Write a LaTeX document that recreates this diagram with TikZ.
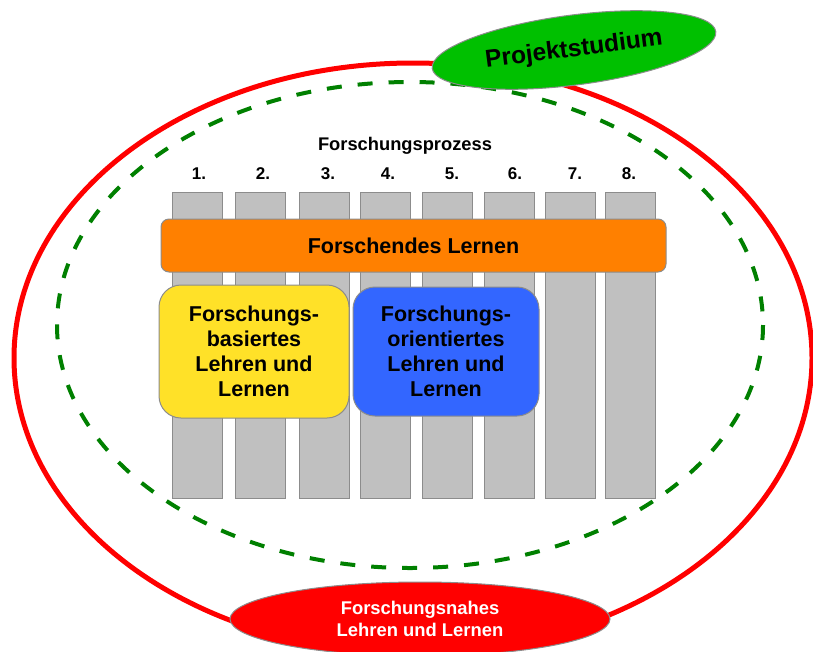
\documentclass[tikz,border=0pt]{standalone}
\usepackage{fontspec}
\setmainfont{Liberation Sans}
\usetikzlibrary{shapes.geometric}
\definecolor{bargray}{RGB}{192,192,192}
\definecolor{barline}{RGB}{140,140,140}
\definecolor{orangefill}{RGB}{255,128,0}
\definecolor{yellowfill}{RGB}{255,225,40}
\definecolor{bluefill}{RGB}{51,102,255}
\definecolor{greenfill}{RGB}{0,192,0}
\definecolor{dashgreen}{RGB}{0,128,0}
\definecolor{redfill}{RGB}{255,0,0}
\tikzset{
  outerring/.style={draw=redfill, line width=5pt},
  innerring/.style={draw=dashgreen, line width=4pt, dash pattern=on 15pt off 16pt},
  barbox/.style={draw=barline, fill=bargray, line width=1pt, minimum width=50pt, minimum height=306pt, inner sep=0pt, outer sep=0pt},
  numlabel/.style={font=\fontsize{17}{20}\selectfont\bfseries, inner sep=0pt},
  orangebox/.style={draw=barline, fill=orangefill, line width=1pt, rounded corners=8pt, minimum width=505pt, minimum height=53pt, inner sep=0pt, font=\fontsize{21.5}{25}\selectfont\bfseries},
  roundbox/.style={draw=barline, line width=1pt, rounded corners=22pt, inner sep=0pt, align=center, font=\fontsize{21.5}{25}\selectfont\bfseries},
  ovalnode/.style={ellipse, draw=barline, line width=1pt, inner sep=0pt, align=center}
}
\begin{document}
\begin{tikzpicture}[x=1pt,y=-1pt]
\useasboundingbox (0,0) rectangle (813,651);
\draw[outerring] (413,358) ellipse [x radius=399, y radius=295];
\draw[innerring] (410,325) ellipse [x radius=353, y radius=243];

\node[font=\fontsize{18.3}{21}\selectfont\bfseries, inner sep=0pt] (title) at (405,146) {Forschungsprozess};

\node[barbox] (b1) at (197,345) {};
\node[barbox] (b2) at (260,345) {};
\node[barbox] (b3) at (324,345) {};
\node[barbox] (b4) at (385,345) {};
\node[barbox] (b5) at (447,345) {};
\node[barbox] (b6) at (509,345) {};
\node[barbox] (b7) at (570,345) {};
\node[barbox] (b8) at (630,345) {};

\node[numlabel] (n1) at (199,174) {1.};
\node[numlabel] (n2) at (263,174) {2.};
\node[numlabel] (n3) at (328,174) {3.};
\node[numlabel] (n4) at (388,174) {4.};
\node[numlabel] (n5) at (452,174) {5.};
\node[numlabel] (n6) at (515,174) {6.};
\node[numlabel] (n7) at (575,174) {7.};
\node[numlabel] (n8) at (629,174) {8.};

\node[orangebox] (fl) at (413.5,245.5) {Forschendes Lernen};

\node[roundbox, fill=yellowfill, minimum width=190pt, minimum height=133pt] (fb) at (254,351.5) {Forschungs-\\basiertes\\Lehren und\\Lernen};
\node[roundbox, fill=bluefill, minimum width=186pt, minimum height=129pt] (fo) at (446,351.5) {Forschungs-\\orientiertes\\Lehren und\\Lernen};

\node[ovalnode, fill=greenfill, minimum width=286pt, minimum height=70pt, rotate=7.4, font=\fontsize{24.5}{28}\selectfont\bfseries] (ps) at (574,50) {Projektstudium};

\node[ovalnode, fill=redfill, minimum width=380pt, minimum height=74pt, text=white, font=\fontsize{18.4}{22}\selectfont\bfseries] (fn) at (420,619) {Forschungsnahes\\Lehren und Lernen};
\end{tikzpicture}
\end{document}
